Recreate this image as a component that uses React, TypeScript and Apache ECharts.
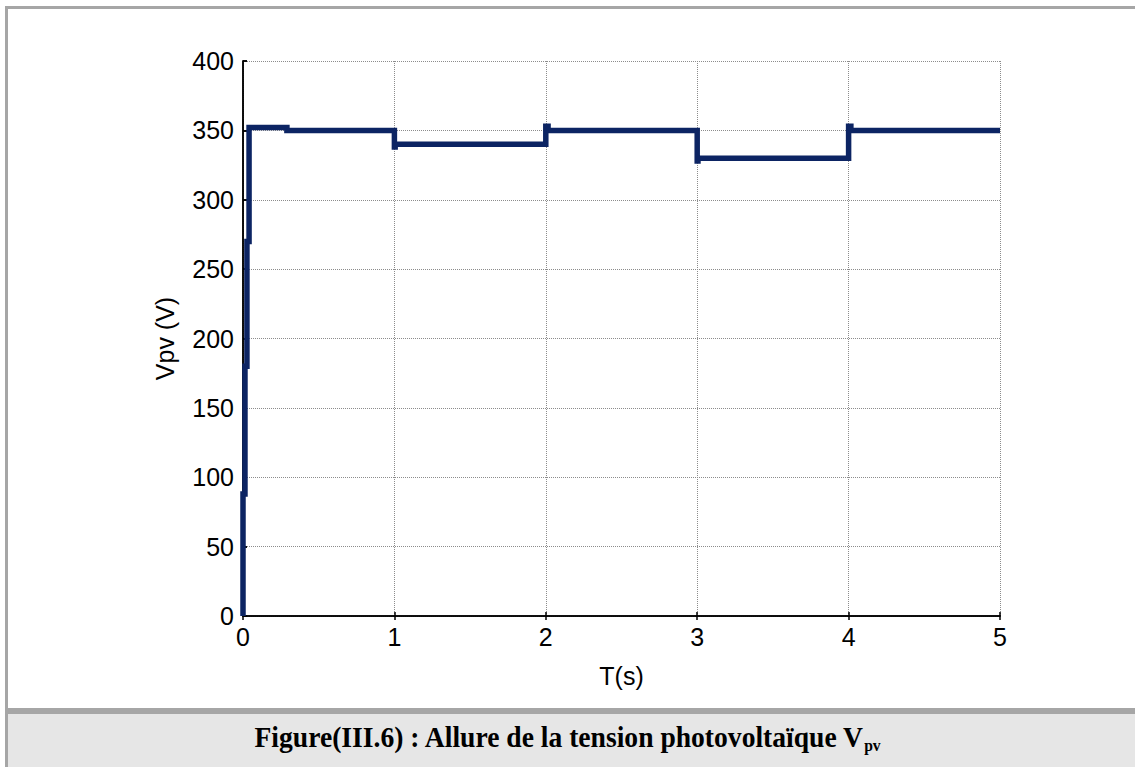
import React, { useEffect, useRef } from "react";
import * as echarts from "echarts";

// Time (s) and PV voltage (V)
const timeValues = [0, 0, 0.013, 0.013, 0.026, 0.026, 0.04, 0.04, 0.29, 0.29, 1.0, 1.0, 1.005, 1.005, 2.0, 2.0, 2.015, 2.015, 3.0, 3.0, 3.005, 3.005, 4.0, 4.0, 4.015, 4.015, 5.0];
const voltageValues = [0, 88, 88, 180, 180, 270, 270, 352, 352, 350, 350, 338, 338, 340, 340, 353, 353, 350, 350, 328, 328, 330, 330, 353, 353, 350, 350];

const xTicks = [0, 1, 2, 3, 4, 5];
const yTicks = [0, 50, 100, 150, 200, 250, 300, 350, 400];

const xLabel = "T(s)";
const yLabel = "Vpv (V)";
const captionMain = "Figure(III.6) : Allure de la tension photovoltaïque V";
const captionSub = "pv";

export default function App() {
  const ref = useRef<HTMLDivElement>(null);
  useEffect(() => {
    if (!ref.current) return;
    const chart = echarts.init(ref.current, undefined, { renderer: "svg" });
    const data = timeValues.map((t, i) => [t, voltageValues[i]]);
    const axisFont = { fontFamily: "Liberation Sans, Arial, sans-serif", fontSize: 25, color: "#000" };
    const xMin = xTicks[0], xMax = xTicks[xTicks.length - 1];
    const yMin = yTicks[0], yMax = yTicks[yTicks.length - 1];
    const xInt = xTicks[1] - xTicks[0];
    const yInt = yTicks[1] - yTicks[0];
    const serif = "Liberation Serif, Times New Roman, serif";
    chart.setOption({
      animation: false,
      backgroundColor: "#fff",
      grid: { left: 243, top: 61, width: 757, height: 555, containLabel: false },
      xAxis: [
        {
          type: "value", min: xMin, max: xMax, interval: xInt, position: "bottom",
          name: xLabel, nameLocation: "middle", nameGap: 47,
          nameTextStyle: { ...axisFont },
          axisLine: { lineStyle: { color: "#000", width: 1.5 } },
          axisTick: { inside: true, length: 4, lineStyle: { color: "#000", width: 1.5 } },
          axisLabel: { ...axisFont, margin: 8 },
          splitLine: { show: true, lineStyle: { color: "#8c8c8c", type: "dotted", width: 1 } },
        },
        {
          type: "value", min: xMin, max: xMax, interval: xInt, position: "top",
          axisLine: { show: true, lineStyle: { color: "#000", width: 1.5 } },
          axisTick: { show: true, inside: true, length: 4, lineStyle: { color: "#000", width: 1.5 } },
          axisLabel: { show: false },
          splitLine: { show: false },
        },
      ],
      yAxis: [
        {
          type: "value", min: yMin, max: yMax, interval: yInt, position: "left",
          name: yLabel, nameLocation: "middle", nameGap: 66, nameRotate: 90,
          nameTextStyle: { ...axisFont },
          axisLine: { show: true, lineStyle: { color: "#000", width: 1.5 } },
          axisTick: { show: true, inside: true, length: 4, lineStyle: { color: "#000", width: 1.5 } },
          axisLabel: { ...axisFont, margin: 9 },
          splitLine: { show: true, lineStyle: { color: "#8c8c8c", type: "dotted", width: 1 } },
        },
        {
          type: "value", min: yMin, max: yMax, interval: yInt, position: "right",
          axisLine: { show: true, lineStyle: { color: "#000", width: 1.5 } },
          axisTick: { show: true, inside: false, length: 4, lineStyle: { color: "#000", width: 1.5 } },
          axisLabel: { show: false },
          splitLine: { show: false },
        },
      ],
      series: [
        {
          type: "line",
          data,
          xAxisIndex: 0,
          yAxisIndex: 0,
          showSymbol: false,
          symbol: "none",
          lineStyle: { color: "#0c2463", width: 5.5, join: "miter" },
          clip: false,
        },
      ],
      graphic: [
        { type: "rect", shape: { x: 5, y: 6, width: 1130, height: 3 }, style: { fill: "#a6a6a6" }, silent: true },
        { type: "rect", shape: { x: 5, y: 6, width: 3, height: 761 }, style: { fill: "#a6a6a6" }, silent: true },
        { type: "rect", shape: { x: 8, y: 714, width: 1127, height: 53 }, style: { fill: "#e6e6e6" }, silent: true },
        { type: "rect", shape: { x: 5, y: 708, width: 1130, height: 6 }, style: { fill: "#a6a6a6" }, silent: true },
        {
          type: "text",
          x: 567,
          y: 737,
          scaleX: 0.92,
          silent: true,
          style: {
            text: `{m|${captionMain}}{s|${captionSub}}`,
            align: "center",
            verticalAlign: "middle",
            fontFamily: serif,
            rich: {
              m: { fontSize: 30, fontWeight: "bold", fontFamily: serif, fill: "#000", verticalAlign: "bottom" },
              s: { fontSize: 17, fontWeight: "bold", fontFamily: serif, fill: "#000", verticalAlign: "bottom", padding: [0, 0, -2, 0] },
            },
          },
        },
      ],
    });
    return () => chart.dispose();
  }, []);
  return <div ref={ref} style={{ position: "absolute", left: 0, top: 0, width: 1135, height: 767 }} />;
}
